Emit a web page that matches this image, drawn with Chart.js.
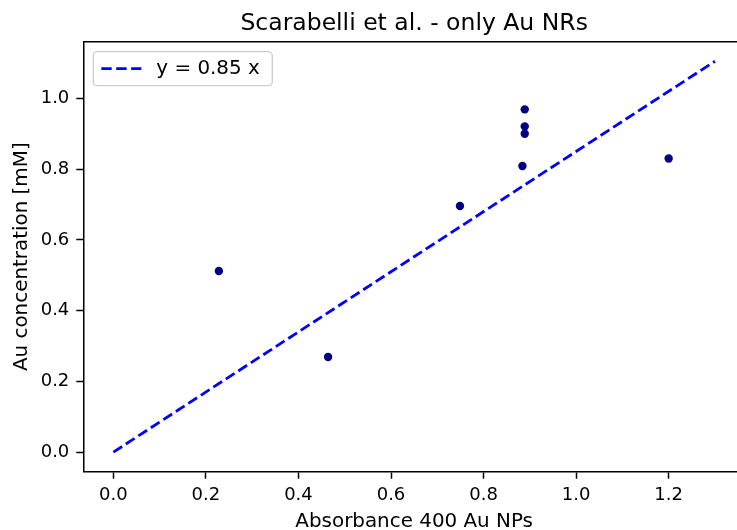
<!DOCTYPE html>
<html>
<head>
<meta charset="utf-8">
<script src="https://cdn.jsdelivr.net/npm/chart.js@4"></script>
<style>
  html, body { margin: 0; padding: 0; overflow: hidden; background: #fff; }
  #wrap { width: 737px; height: 530px; overflow: hidden; position: relative; }
  canvas { display: block; }
</style>
</head>
<body>
<div id="wrap"><canvas id="myChart" width="760" height="540"></canvas></div>
<script>
// measured points
const absorbance = [0.228, 0.464, 0.749, 0.884, 0.889, 0.889, 0.889, 1.2];
const concentration = [0.512, 0.269, 0.696, 0.809, 0.969, 0.921, 0.900, 0.830];

// fitted line y = 0.85 x
const fitX = [0, 1.3];
const fitY = [0, 1.105];

const xTicks = [0, 0.2, 0.4, 0.6, 0.8, 1.0, 1.2];
const yTicks = [0, 0.2, 0.4, 0.6, 0.8, 1.0];

const titleText = 'Scarabelli et al. - only Au NRs';
const legendText = 'y = 0.85 x';

Chart.defaults.font.family = '"DejaVu Sans", sans-serif';
Chart.defaults.color = '#000';

const FONT = '"DejaVu Sans", sans-serif';

const framePlugin = {
  id: 'frame',
  afterDraw(chart) {
    const { ctx, chartArea: a } = chart;
    ctx.save();
    // top spine (right spine falls outside the picture)
    ctx.strokeStyle = '#000';
    ctx.lineWidth = 1.5;
    ctx.beginPath();
    ctx.moveTo(a.left, a.top);
    ctx.lineTo(a.right, a.top);
    ctx.stroke();

    // title
    ctx.fillStyle = '#000';
    ctx.font = '23.5px ' + FONT;
    ctx.textAlign = 'center';
    ctx.textBaseline = 'alphabetic';
    ctx.fillText(titleText, (a.left + a.right) / 2, 30);

    // legend box
    const bx = a.left + 10, by = a.top + 10, bw = 179, bh = 34, r = 4;
    ctx.beginPath();
    ctx.roundRect(bx, by, bw, bh, r);
    ctx.fillStyle = 'rgba(255,255,255,0.8)';
    ctx.fill();
    ctx.strokeStyle = '#cccccc';
    ctx.lineWidth = 1.3;
    ctx.stroke();

    const ly = by + bh / 2;
    ctx.beginPath();
    ctx.setLineDash([10.4, 4.5]);
    ctx.strokeStyle = '#0000ff';
    ctx.lineWidth = 2.8;
    ctx.moveTo(bx + 8, ly);
    ctx.lineTo(bx + 48, ly);
    ctx.stroke();
    ctx.setLineDash([]);

    ctx.fillStyle = '#000';
    ctx.font = '19.9px ' + FONT;
    ctx.textAlign = 'left';
    ctx.textBaseline = 'middle';
    ctx.fillText(legendText, bx + 63, ly);
    ctx.restore();
  }
};

const ctx = document.getElementById('myChart').getContext('2d');

new Chart(ctx, {
  type: 'scatter',
  data: {
    datasets: [
      {
        label: legendText,
        data: fitX.map((x, i) => ({ x: x, y: fitY[i] })),
        showLine: true,
        borderColor: '#0000ff',
        borderWidth: 2.8,
        borderDash: [10.4, 4.5],
        pointRadius: 0,
        fill: false
      },
      {
        label: 'data',
        data: absorbance.map((x, i) => ({ x: x, y: concentration[i] })),
        backgroundColor: '#000080',
        borderColor: '#000080',
        pointRadius: 4.2,
        borderWidth: 0
      }
    ]
  },
  options: {
    responsive: false,
    animation: false,
    layout: { padding: { top: 41.7, right: 15, left: 0, bottom: 0 } },
    plugins: {
      legend: { display: false },
      title: { display: false },
      tooltip: { enabled: false }
    },
    scales: {
      x: {
        type: 'linear',
        min: -0.065,
        max: 1.365,
        afterBuildTicks: s => { s.ticks = xTicks.map(v => ({ value: v })); },
        afterFit: s => { s.height = 68.3; },
        ticks: {
          font: { size: 18 },
          padding: 6,
          callback: v => v.toFixed(1)
        },
        grid: { drawOnChartArea: false, drawTicks: true, tickLength: 7, tickWidth: 1.5, tickColor: '#000' },
        border: { display: true, color: '#000', width: 1.5 },
        title: { display: true, text: 'Absorbance 400 Au NPs', font: { size: 19.9 }, padding: { top: 0, bottom: 6.3 } }
      },
      y: {
        type: 'linear',
        min: -0.0553,
        max: 1.1603,
        afterBuildTicks: s => { s.ticks = yTicks.map(v => ({ value: v })); },
        afterFit: s => { s.width = 83.3; },
        ticks: {
          font: { size: 18 },
          padding: 7,
          callback: v => v.toFixed(1)
        },
        grid: { drawOnChartArea: false, drawTicks: true, tickLength: 7, tickWidth: 1.5, tickColor: '#000' },
        border: { display: true, color: '#000', width: 1.5 },
        title: { display: true, text: 'Au concentration [mM]', font: { size: 19.9 }, padding: { top: 10, bottom: 0 } }
      }
    }
  },
  plugins: [framePlugin]
});
</script>
</body>
</html>
